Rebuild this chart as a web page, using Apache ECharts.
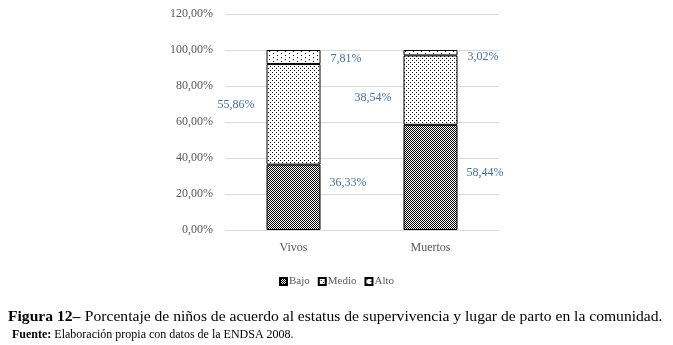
<!DOCTYPE html>
<html>
<head>
<meta charset="utf-8">
<script src="https://cdn.jsdelivr.net/npm/echarts@6/dist/echarts.min.js"></script>
<style>
  html, body { margin: 0; padding: 0; background: #fff; }
  #chart { width: 673px; height: 345px; }
</style>
</head>
<body>
<div id="chart"></div>
<script>
const categories = ['Vivos', 'Muertos']
const bajo = [36.33, 58.44]
const medio = [55.86, 38.54]
const alto = [7.81, 3.02]
const yTicks = [0, 20, 40, 60, 80, 100, 120]

// tramas tipo Excel
function makePattern (w, h, dots) {
  let c = document.createElement('canvas')
  c.width = w
  c.height = h
  let ctx = c.getContext('2d')
  ctx.fillStyle = '#fff'
  ctx.fillRect(0, 0, w, h)
  ctx.fillStyle = '#000'
  dots.forEach(function (d) { ctx.fillRect(d[0], d[1], 1, 1) })
  return { image: c, repeat: 'repeat' }
}
const patBajo = makePattern(2, 2, [[0, 0], [1, 1]])
const patMedio = makePattern(4, 4, [[0, 0], [2, 2]])
const patAlto = makePattern(8, 4, [[1, 1], [5, 3]])

function pct (v) {
  return v.toFixed(2).replace('.', ',') + '%'
}

// posiciones de etiquetas (a mano, como en Excel)
function withLabels (arr, opts) {
  return arr.map(function (v, i) {
    return { value: v, label: opts[i] }
  })
}

let myChart = echarts.init(document.getElementById('chart'))
const labelColor = '#3F6FAF'
const font = 'Liberation Serif'

myChart.setOption({
  animation: false,
  textStyle: { fontFamily: font },
  title: {
    left: 8,
    top: 308,
    padding: 0,
    text: '{b|Figura 12–} {n|Porcentaje de niños de acuerdo al estatus de supervivencia y lugar de parto en la comunidad.}',
    subtext: '{b|Fuente:} {n|Elaboración propia con datos de la ENDSA 2008.}',
    itemGap: 3,
    textStyle: {
      fontWeight: 'normal',
      rich: {
        b: { fontFamily: font, fontSize: 15.6, fontWeight: 'bold', color: '#000' },
        n: { fontFamily: font, fontSize: 15.6, fontWeight: 'normal', color: '#000' }
      }
    },
    subtextStyle: {
      fontWeight: 'normal',
      rich: {
        b: { fontFamily: font, fontSize: 12, fontWeight: 'bold', color: '#000', padding: [0, 0, 0, 4] },
        n: { fontFamily: font, fontSize: 12, fontWeight: 'normal', color: '#000' }
      }
    }
  },
  legend: {
    bottom: 53,
    left: 'center',
    icon: 'rect',
    itemWidth: 7,
    itemHeight: 7,
    itemGap: 8,
    textStyle: { color: '#595959', fontSize: 11, fontFamily: font, padding: [0, 0, 0, -3] },
    data: ['Bajo', 'Medio', 'Alto']
  },
  grid: {
    left: 225,
    right: 174,
    top: 14,
    bottom: 115
  },
  xAxis: {
    type: 'category',
    data: categories,
    axisTick: { show: false },
    axisLine: { lineStyle: { color: '#d9d9d9' } },
    axisLabel: { color: '#595959', fontSize: 12, fontFamily: font, margin: 12 }
  },
  yAxis: {
    type: 'value',
    min: yTicks[0],
    max: yTicks[yTicks.length - 1],
    interval: 20,
    axisLine: { show: false },
    axisTick: { show: false },
    axisLabel: {
      color: '#595959',
      fontSize: 12,
      fontFamily: font,
      margin: 12,
      formatter: function (v) { return pct(v) }
    },
    splitLine: { lineStyle: { color: '#d9d9d9' } }
  },
  series: [
    {
      name: 'Bajo',
      type: 'bar',
      stack: 'total',
      barWidth: 54,
      itemStyle: { color: patBajo, borderColor: '#000', borderWidth: 1 },
      label: { show: true, position: 'right', distance: 9, color: labelColor, fontSize: 12, fontFamily: font,
        formatter: function (p) { return pct(p.value) } },
      data: withLabels(bajo, [{ offset: [0, -14] }, { offset: [0, -5] }])
    },
    {
      name: 'Medio',
      type: 'bar',
      stack: 'total',
      itemStyle: { color: patMedio, borderColor: '#000', borderWidth: 1 },
      label: { show: true, position: 'left', distance: 12, color: labelColor, fontSize: 12, fontFamily: font,
        formatter: function (p) { return pct(p.value) } },
      data: withLabels(medio, [{ offset: [0, -9] }, { offset: [0, 8] }])
    },
    {
      name: 'Alto',
      type: 'bar',
      stack: 'total',
      itemStyle: { color: patAlto, borderColor: '#000', borderWidth: 1 },
      label: { show: true, position: 'right', distance: 10, color: labelColor, fontSize: 12, fontFamily: font,
        formatter: function (p) { return pct(p.value) } },
      data: withLabels(alto, [{ offset: [0, 2] }, { offset: [0, 4] }])
    }
  ]
})
</script>
</body>
</html>
